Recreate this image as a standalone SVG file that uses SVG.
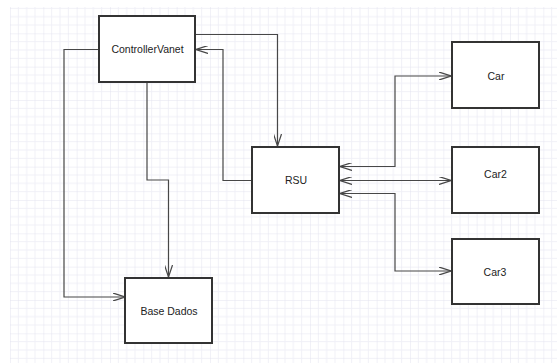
<svg xmlns="http://www.w3.org/2000/svg" width="557" height="363" viewBox="0 0 557 363">
  <style>
    .box { fill: #ffffff; stroke: #333333; stroke-width: 2; }
    .lbl { font-family: "Liberation Sans", Arial, sans-serif; font-size: 10.5px; fill: #222222; text-anchor: middle; }
    .conn { fill: none; stroke: #474747; stroke-width: 1.2; }
  </style>
  <defs>
    <pattern id="grid" patternUnits="userSpaceOnUse" x="10" y="0" width="33.333" height="33.333">
      <path d="M8.333,0 V33.333 M16.667,0 V33.333 M25,0 V33.333 M0,8.333 H33.333 M0,16.667 H33.333 M0,25 H33.333" stroke="#f0f0f7" stroke-width="1" fill="none"/>
      <path d="M0,0 V33.333 M0,0 H33.333" stroke="#e4e4f0" stroke-width="1" fill="none"/>
    </pattern>
    <marker id="arr" viewBox="0 0 12 8" refX="12" refY="4" markerWidth="12" markerHeight="8" markerUnits="userSpaceOnUse" orient="auto-start-reverse">
      <path d="M0,0 L12,4 L0,8" fill="none" stroke="#474747" stroke-width="1.2"/>
    </marker>
  </defs>
  <rect x="0" y="0" width="557" height="363" fill="#ffffff"/>
  <rect x="10" y="7" width="547" height="356" fill="url(#grid)"/>

  <g id="connectors">
    <path class="conn" d="M99,49.5 H64 V297 H125" marker-end="url(#arr)"/>
    <path class="conn" d="M147,82 V180 H168.5 V277" marker-end="url(#arr)"/>
    <path class="conn" d="M195,34.5 H277.5 V146" marker-end="url(#arr)"/>
    <path class="conn" d="M252,180.5 H223 V49.5 H196" marker-end="url(#arr)"/>
    <path class="conn" d="M340,166.5 H395 V76 H451" marker-start="url(#arr)" marker-end="url(#arr)"/>
    <path class="conn" d="M340,180.5 H451" marker-start="url(#arr)" marker-end="url(#arr)"/>
    <path class="conn" d="M340,193.5 H395 V271 H451" marker-start="url(#arr)" marker-end="url(#arr)"/>
  </g>

  <g id="controllervanet">
    <rect class="box" x="99" y="16" width="96" height="66"/>
    <text class="lbl" x="147.5" y="52.7">ControllerVanet</text>
  </g>
  <g id="rsu">
    <rect class="box" x="252" y="147" width="87" height="66"/>
    <text class="lbl" x="296" y="184">RSU</text>
  </g>
  <g id="car">
    <rect class="box" x="452" y="42" width="87" height="66"/>
    <text class="lbl" x="496" y="79.5">Car</text>
  </g>
  <g id="car2">
    <rect class="box" x="452" y="147" width="87" height="66"/>
    <text class="lbl" x="495.5" y="177.7">Car2</text>
  </g>
  <g id="car3">
    <rect class="box" x="452" y="239" width="87" height="65"/>
    <text class="lbl" x="495" y="275.5">Car3</text>
  </g>
  <g id="basedados">
    <rect class="box" x="125" y="278" width="87" height="65"/>
    <text class="lbl" x="169" y="314.7">Base Dados</text>
  </g>
</svg>
